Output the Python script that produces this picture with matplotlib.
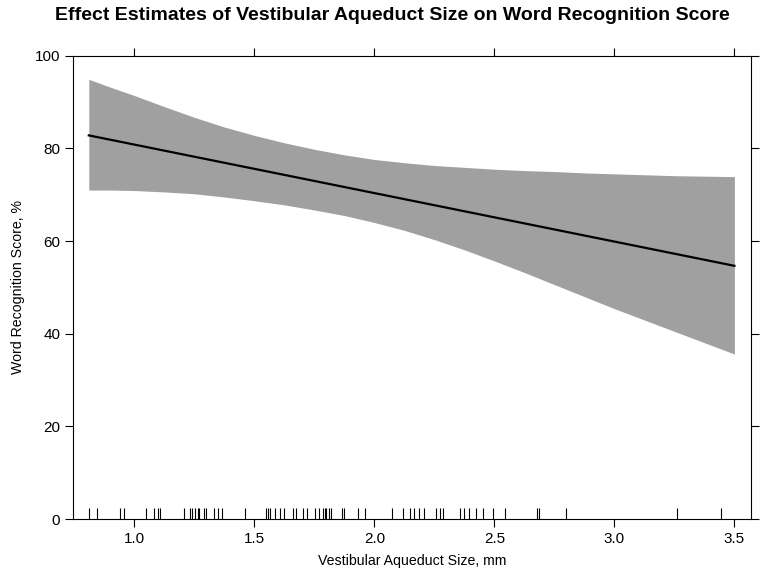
import matplotlib
matplotlib.use("Agg")
import matplotlib.pyplot as plt

plt.rcParams['font.family'] = ['Liberation Sans', 'DejaVu Sans']

# fitted effect and confidence band
size_mm = [0.81, 0.9, 1.0, 1.125, 1.25, 1.375, 1.5, 1.625, 1.75, 1.875, 2.0,
           2.125, 2.25, 2.375, 2.5, 2.625, 2.75, 2.875, 3.0, 3.25, 3.5]
upper = [94.9, 93.2, 91.4, 89.0, 86.7, 84.6, 82.8, 81.2, 79.8, 78.6, 77.6,
         76.9, 76.3, 75.9, 75.5, 75.2, 75.0, 74.7, 74.5, 74.1, 73.9]
lower = [71.0, 71.0, 70.9, 70.6, 70.2, 69.5, 68.7, 67.8, 66.7, 65.5, 64.0,
         62.3, 60.3, 58.1, 55.7, 53.2, 50.6, 48.0, 45.4, 40.5, 35.6]
line_x = [0.81, 3.5]
line_y = [82.8, 54.65]

# observed aqueduct sizes (rug)
rug = [0.81, 0.845, 0.94, 0.956, 1.05, 1.08, 1.10, 1.107, 1.205, 1.23, 1.24,
       1.253, 1.263, 1.27, 1.29, 1.30, 1.33, 1.35, 1.367, 1.46, 1.55, 1.557,
       1.565, 1.586, 1.607, 1.623, 1.662, 1.673, 1.703, 1.72, 1.752, 1.77,
       1.787, 1.794, 1.80, 1.81, 1.82, 1.867, 1.874, 1.93, 1.96, 2.075, 2.12,
       2.15, 2.163, 2.186, 2.205, 2.255, 2.274, 2.285, 2.357, 2.375, 2.396,
       2.424, 2.454, 2.496, 2.546, 2.676, 2.684, 2.80, 3.26, 3.445]

xticks = [1.0, 1.5, 2.0, 2.5, 3.0, 3.5]
yticks = [0, 20, 40, 60, 80, 100]

fig = plt.figure(figsize=(7.6, 5.79), dpi=100)
ax = fig.add_axes([0.0957, 0.1036, 0.8921, 0.8002])

ax.fill_between(size_mm, lower, upper, color='#a0a0a0', linewidth=0)
ax.plot(line_x, line_y, color='black', linewidth=1.6)
ax.vlines(rug, 0, 2.4, color='black', linewidth=0.8)

ax.set_xlim(0.743, 3.568)
ax.set_ylim(0, 100)
ax.set_xticks(xticks)
ax.set_xticklabels(['%.1f' % t for t in xticks])
ax.set_yticks(yticks)
ax.tick_params(axis='both', direction='out', length=6, width=0.8, labelsize=11,
               top=True, right=True, labeltop=False, labelright=False, pad=3)
for s in ax.spines.values():
    s.set_linewidth(0.8)

ax.set_xlabel('Vestibular Aqueduct Size, mm', fontsize=10.2, labelpad=6)
ax.set_ylabel('Word Recognition Score, %', fontsize=10.2, labelpad=7)
fig.text(0.516, 0.973, 'Effect Estimates of Vestibular Aqueduct Size on Word Recognition Score',
         ha='center', va='center', fontsize=14, fontweight='bold')

fig.savefig('out.png', dpi=100)
